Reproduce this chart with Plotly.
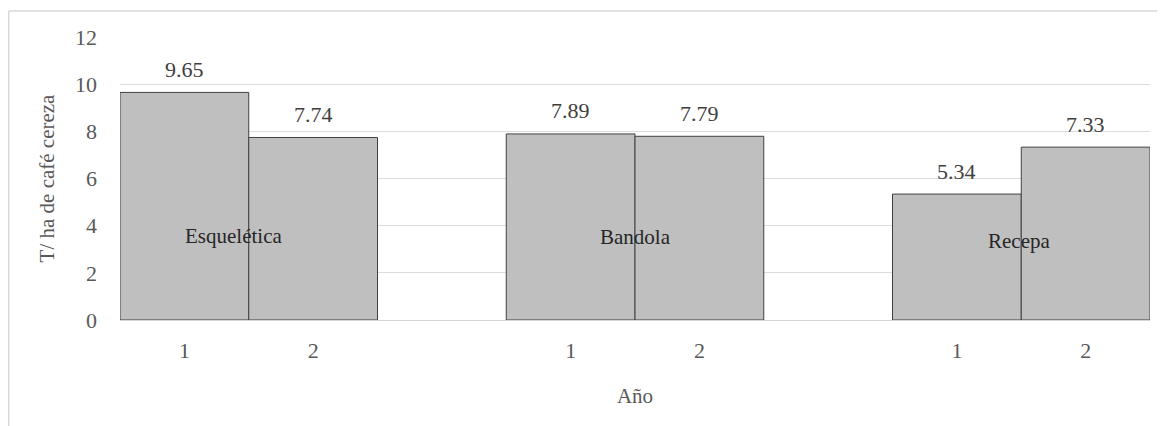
import plotly.graph_objects as go

groups = ["Esquelética", "Bandola", "Recepa"]
years = ["1", "2"]
values = [[9.65, 7.74], [7.89, 7.79], [5.34, 7.33]]
y_ticks = [0, 2, 4, 6, 8, 10, 12]

SERIF = "Liberation Serif"
GREY_TXT = "#595959"
FS = 22

xs, ys, tick_pos, tick_txt = [], [], [], []
for g, vals in enumerate(values):
    for k, v in enumerate(vals):
        pos = g * 3 + k
        xs.append(pos)
        ys.append(v)
        tick_pos.append(pos)
        tick_txt.append(years[k])

fig = go.Figure()
fig.add_trace(go.Bar(
    x=xs, y=ys, width=1,
    marker=dict(color="#bfbfbf", line=dict(color="#404040", width=1)),
    hoverinfo="x+y", showlegend=False,
))

annotations = []
for x, v in zip(xs, ys):
    annotations.append(dict(
        x=x, y=v, xref="x", yref="y", text=f"{v:.2f}", showarrow=False,
        yshift=23, font=dict(family=SERIF, size=FS, color="#404040"),
    ))
label_y = [3.55, 3.5, 3.35]
label_dx = [-0.12, 0.0, -0.02]
for g, name in enumerate(groups):
    annotations.append(dict(
        x=g * 3 + 0.5 + label_dx[g], y=label_y[g], xref="x", yref="y", text=name,
        showarrow=False, font=dict(family=SERIF, size=FS - 1, color="#262626"),
    ))

# page has an 8px body margin; plot area in the reference spans x 120-1150, y 37-320
W, H = 1157, 418
L, T = 112, 29
R = W - 1142
B = H - 312
PW, PH = 1030, 283

fig.update_layout(
    width=W, height=H,
    margin=dict(l=L, r=R, t=T, b=B),
    paper_bgcolor="white", plot_bgcolor="white",
    annotations=annotations,
    xaxis=dict(
        range=[-0.5, 7.5], tickmode="array", tickvals=tick_pos, ticktext=tick_txt,
        showgrid=False, zeroline=False, showline=True, linecolor="#d4d4d4", linewidth=1,
        ticks="", tickfont=dict(family=SERIF, size=FS, color=GREY_TXT), ticklabelstandoff=11,
        title=dict(text="Año", font=dict(family=SERIF, size=FS - 1, color=GREY_TXT), standoff=25),
    ),
    yaxis=dict(
        range=[0, 12], tickvals=y_ticks, showgrid=True, gridcolor="#dcdcdc", gridwidth=1,
        zeroline=False, showline=False, ticks="",
        tickfont=dict(family=SERIF, size=FS, color=GREY_TXT), ticklabelstandoff=22,
        title=dict(text="T/ ha de café cereza", font=dict(family=SERIF, size=FS - 1, color=GREY_TXT), standoff=14),
    ),
    shapes=[
        dict(type="line", xref="paper", yref="paper", x0=(0.75 - L) / PW, x1=(W - L) / PW,
             y0=(312 - 3) / PH, y1=(312 - 3) / PH, line=dict(color="#d9d9d9", width=1.5)),
        dict(type="line", xref="paper", yref="paper", x0=(0.75 - L) / PW, x1=(0.75 - L) / PW,
             y0=(312 - 3) / PH, y1=(312 - H) / PH, line=dict(color="#d9d9d9", width=1.5)),
    ],
)

fig.write_html("out.html")
